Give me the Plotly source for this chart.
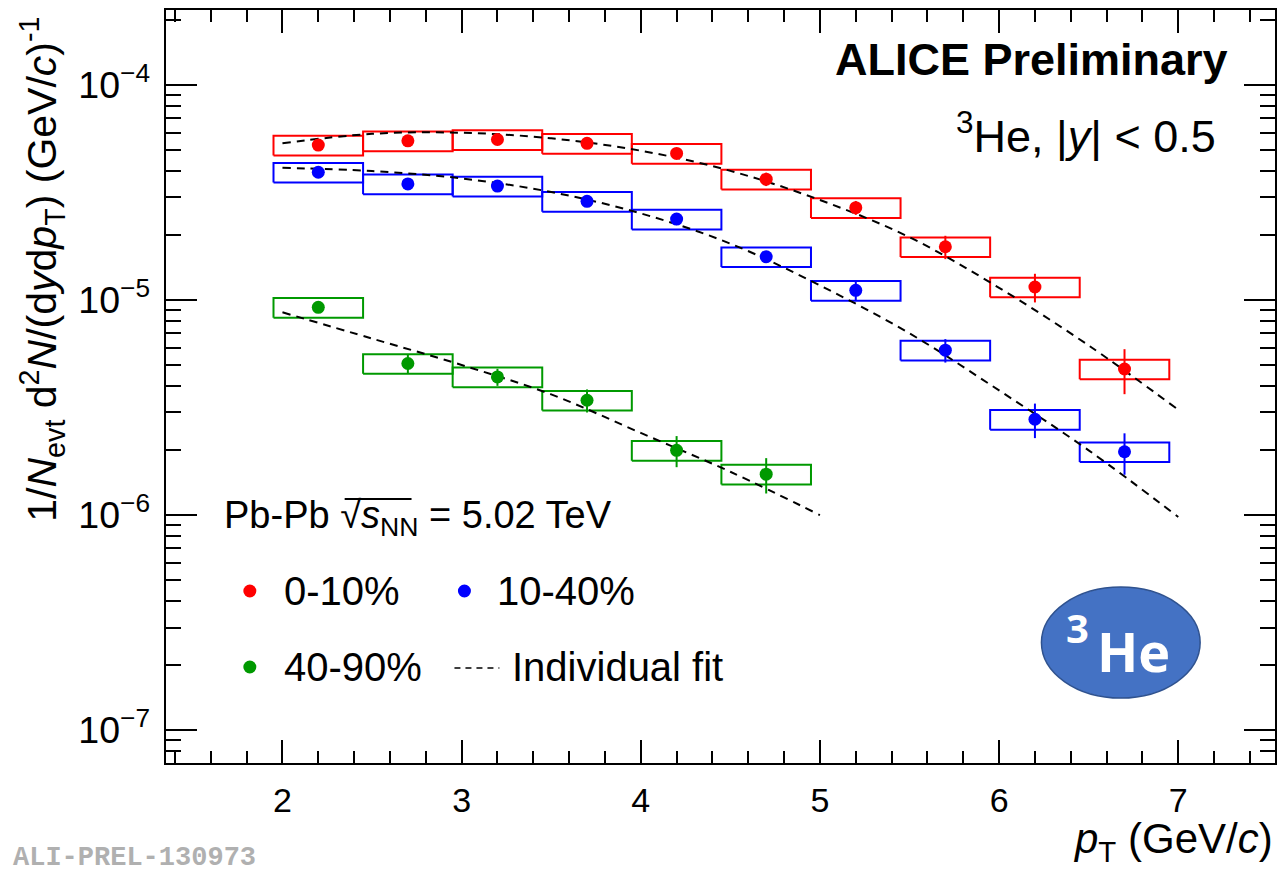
import plotly.graph_objects as go

# ---- data: 3He pT spectra in Pb-Pb at 5.02 TeV ----
pt = [2.2, 2.7, 3.2, 3.7, 4.2, 4.7, 5.2, 5.7, 6.2, 6.7]

y_0_10 = [5.26e-5, 5.50e-5, 5.58e-5, 5.36e-5, 4.81e-5, 3.65e-5, 2.69e-5, 1.77e-5, 1.15e-5, 4.78e-6]
stat_0_10 = [1.5e-6, 1.6e-6, 1.6e-6, 1.6e-6, 1.8e-6, 2.6e-6, 2.0e-6, 2.2e-6, 1.75e-6, 1.13e-6]
sysrel_0_10 = [0.105, 0.105, 0.105, 0.105, 0.105, 0.105, 0.105, 0.105, 0.105, 0.105]

y_10_40 = [3.93e-5, 3.47e-5, 3.39e-5, 2.88e-5, 2.38e-5, 1.59e-5, 1.11e-5, 5.85e-6, 2.79e-6, 1.97e-6]
stat_10_40 = [1.0e-6, 1.0e-6, 1.0e-6, 1.0e-6, 0.9e-6, 0.55e-6, 1.1e-6, 0.73e-6, 0.51e-6, 0.43e-6]
sysrel_10_40 = [0.105, 0.105, 0.105, 0.105, 0.105, 0.105, 0.105, 0.105, 0.105, 0.105]

pt_40_90 = [2.2, 2.7, 3.2, 3.7, 4.2, 4.7]
y_40_90 = [9.25e-6, 5.07e-6, 4.39e-6, 3.42e-6, 2.00e-6, 1.55e-6]
stat_40_90 = [0.5e-6, 0.5e-6, 0.4e-6, 0.42e-6, 0.33e-6, 0.29e-6]
sysrel_40_90 = [0.105, 0.105, 0.105, 0.105, 0.105, 0.105]

# individual fits, sampled along pT
fit_pt = [2.0, 2.5, 3.0, 3.5, 4.0, 4.5, 5.0, 5.5, 6.0, 6.5, 7.0]
fit_0_10 = [5.36e-5, 5.93e-5, 6.0e-5, 5.65e-5, 4.95e-5, 3.99e-5, 2.92e-5, 1.96e-5, 1.14e-5, 6.15e-6, 3.09e-6]
fit_10_40 = [4.12e-5, 3.98e-5, 3.68e-5, 3.18e-5, 2.53e-5, 1.83e-5, 1.17e-5, 7.0e-6, 3.8e-6, 2.0e-6, 9.8e-7]
fit_pt_40_90 = [2.0, 2.5, 3.0, 3.5, 4.0, 4.5, 5.0]
fit_40_90 = [8.77e-6, 6.62e-6, 4.99e-6, 3.64e-6, 2.41e-6, 1.59e-6, 1.0e-6]

RED = "#ff0000"
BLUE = "#0000ff"
GREEN = "#009900"
FONT = "Liberation Sans"
HALF_BIN = 0.25

fig = go.Figure()


def sys_boxes(x, y, rel, color):
    bx, by = [], []
    for xi, yi, ri in zip(x, y, rel):
        lo, hi = yi * (1 - ri), yi * (1 + ri)
        bx += [xi - HALF_BIN, xi + HALF_BIN, xi + HALF_BIN, xi - HALF_BIN, xi - HALF_BIN, None]
        by += [lo, lo, hi, hi, lo, None]
    fig.add_trace(go.Scatter(x=bx, y=by, mode="lines", line=dict(color=color, width=2),
                             hoverinfo="skip", showlegend=False))


def fit_line(x, y):
    fig.add_trace(go.Scatter(x=x, y=y, mode="lines", line_shape="spline",
                             line=dict(color="black", width=2, dash="8px,6px"),
                             hoverinfo="skip", showlegend=False))


def points(x, y, err, color):
    fig.add_trace(go.Scatter(x=x, y=y, mode="markers",
                             marker=dict(color=color, size=13, symbol="circle"),
                             error_y=dict(type="data", array=err, color=color, thickness=2, width=0),
                             showlegend=False))


sys_boxes(pt, y_0_10, sysrel_0_10, RED)
sys_boxes(pt, y_10_40, sysrel_10_40, BLUE)
sys_boxes(pt_40_90, y_40_90, sysrel_40_90, GREEN)
fit_line(fit_pt, fit_0_10)
fit_line(fit_pt, fit_10_40)
fit_line(fit_pt_40_90, fit_40_90)
points(pt, y_0_10, stat_0_10, RED)
points(pt, y_10_40, stat_10_40, BLUE)
points(pt_40_90, y_40_90, stat_40_90, GREEN)

axis_common = dict(
    showgrid=False, zeroline=False, showline=True, linecolor="black", linewidth=2,
    mirror="ticks", ticks="inside", tickcolor="black", tickwidth=2,
)

fig.update_xaxes(range=[1.35, 7.54], tick0=0, dtick=1, ticklen=23,
                 tickfont=dict(family=FONT, size=34, color="black"),
                 minor=dict(ticks="inside", dtick=0.2, ticklen=12, tickcolor="black", tickwidth=2),
                 ticklabelstandoff=6, **axis_common)
fig.update_yaxes(type="log", range=[-7.153, -3.651], dtick=1, ticklen=31,
                 tickfont=dict(family=FONT, size=30, color="black"),
                 exponentformat="power", showexponent="all",
                 minor=dict(ticks="inside", ticklen=15, tickcolor="black", tickwidth=2, dtick="D1"),
                 ticklabelstandoff=8, **axis_common)

LEG = 40
annotations = [
    dict(text="<b>ALICE Preliminary</b>", x=0.9594, y=0.9336, xanchor="right", yanchor="middle",
         font=dict(size=45, family=FONT)),
    dict(text="<sup>3</sup>He, |<i>y</i>| < 0.5", x=0.949, y=0.8367, xanchor="right", yanchor="middle",
         font=dict(size=45, family=FONT)),
    dict(text="1/<i>N</i><sub>evt</sub> d<sup>2</sup><i>N</i>/(d<i>y</i>d<i>p</i><sub>T</sub>) (GeV/<i>c</i>)<sup>-1</sup>",
         x=-0.1116, y=0.9934, xanchor="center", yanchor="top", textangle=-90,
         font=dict(size=41, family=FONT)),
    dict(text="<i>p</i><sub>T</sub> (GeV/<i>c</i>)", x=1.0, y=-0.1036, xanchor="right", yanchor="middle",
         font=dict(size=42, family=FONT)),
    dict(text="Pb-Pb √<i>s</i><sub>NN</sub> = 5.02 TeV", x=0.0504, y=0.3254, xanchor="left", yanchor="middle",
         font=dict(size=38, family=FONT)),
    dict(text="0-10%", x=0.1046, y=0.2284, xanchor="left", yanchor="middle", font=dict(size=LEG, family=FONT)),
    dict(text="10-40%", x=0.2970, y=0.2284, xanchor="left", yanchor="middle", font=dict(size=LEG, family=FONT)),
    dict(text="40-90%", x=0.1046, y=0.1275, xanchor="left", yanchor="middle", font=dict(size=LEG, family=FONT)),
    dict(text="Individual fit", x=0.3105, y=0.1275, xanchor="left", yanchor="middle", font=dict(size=LEG, family=FONT)),
    dict(text="<b>ALI-PREL-130973</b>", x=-0.14, y=-0.126, xanchor="left", yanchor="middle",
         font=dict(size=27, family="Liberation Mono", color="#b0b0b0")),
    dict(text="<b>3</b>", x=0.8215, y=0.1793, xanchor="center", yanchor="middle",
         font=dict(size=40, family="Open Sans", color="white")),
    dict(text="<b>He</b>", x=0.8722, y=0.1487, xanchor="center", yanchor="middle",
         font=dict(size=54, family="Open Sans", color="white")),
]
for a in annotations:
    a.setdefault("showarrow", False)
    a.setdefault("xref", "paper")
    a.setdefault("yref", "paper")
    a["font"].setdefault("color", "black")

shapes = [
    # 3He badge
    dict(type="circle", xref="paper", yref="paper", x0=0.7894, x1=0.9325, y0=0.0863, y1=0.2337,
         fillcolor="#4472c4", line=dict(color="#2f528f", width=1.5), layer="below"),
    # legend dashed sample
    dict(type="line", xref="paper", yref="paper", x0=0.2601, x1=0.3006, y0=0.1262, y1=0.1262,
         line=dict(color="black", width=1.5, dash="6px,5px")),
    # overline of the square root
    dict(type="line", xref="paper", yref="paper", x0=0.1611, x1=0.2214, y0=0.3506, y1=0.3506,
         line=dict(color="black", width=2)),
]
for xc, yc, col in [(0.0756, 0.2284, RED), (0.2691, 0.2284, BLUE), (0.0756, 0.1275, GREEN)]:
    shapes.append(dict(type="circle", xref="paper", yref="paper", xsizemode="pixel", ysizemode="pixel",
                       xanchor=xc, yanchor=yc, x0=-6.5, x1=6.5, y0=-6.5, y1=6.5,
                       fillcolor=col, line=dict(width=0)))

fig.update_layout(
    width=1281, height=874,
    margin=dict(l=166, r=4, t=10, b=111),
    paper_bgcolor="white", plot_bgcolor="white",
    font=dict(family=FONT, color="black"),
    annotations=annotations, shapes=shapes,
    showlegend=False,
)

fig.write_html("out.html")
